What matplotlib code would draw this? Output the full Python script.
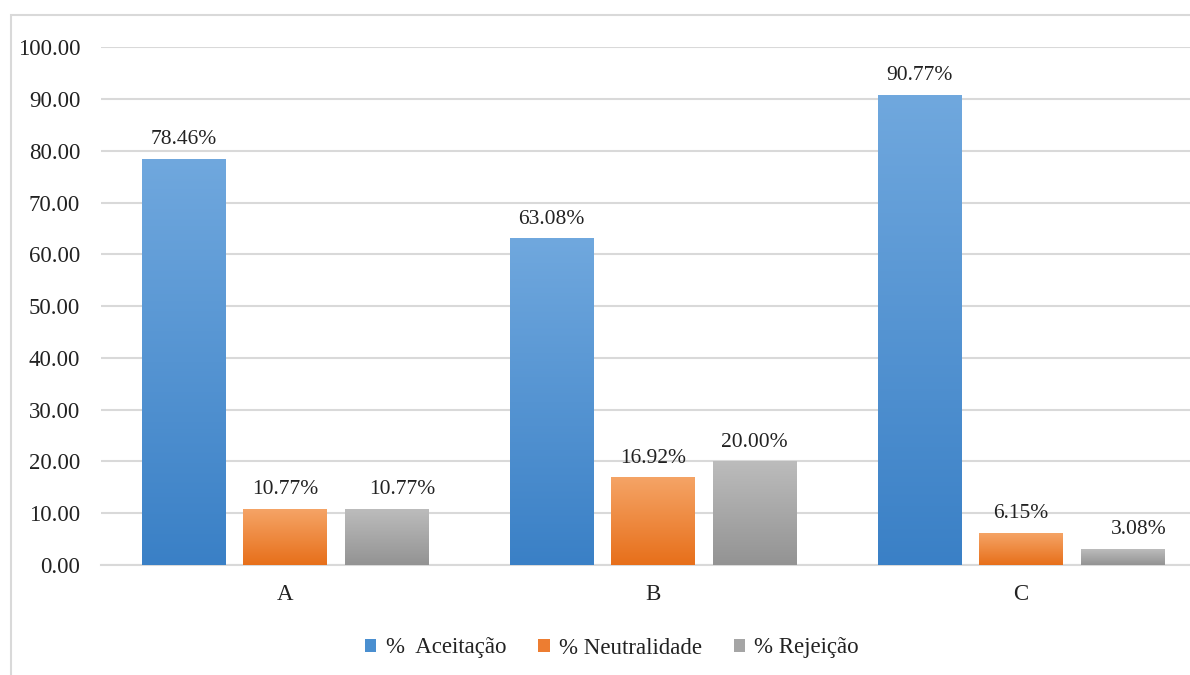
import numpy as np
import matplotlib.pyplot as plt
from matplotlib.colors import LinearSegmentedColormap
from matplotlib.patches import Rectangle

# Dados: percentuais por produto
categorias = ['A', 'B', 'C']
aceitacao = [78.46, 63.08, 90.77]
neutralidade = [10.77, 16.92, 6.15]
rejeicao = [10.77, 20.00, 3.08]
series_nomes = ['%  Aceitação', '% Neutralidade', '% Rejeição']
yticks = [0, 10, 20, 30, 40, 50, 60, 70, 80, 90, 100]

# cores (topo, base) para o degradê de cada série
cores = [('#70a8de', '#3a80c6'), ('#f5a466', '#e76f1a'), ('#bcbcbc', '#939393')]
cor_legenda = ['#4a8fd0', '#ed7d31', '#a5a5a5']

plt.rcParams['font.family'] = ['Liberation Serif', 'DejaVu Serif']

fig = plt.figure(figsize=(11.9, 6.75), dpi=100)
ax = fig.add_axes([0.0849, 0.163, 0.9277, 0.767])

# moldura do gráfico (cortada à direita e embaixo)
fig.patches.append(Rectangle((11 / 1190, -0.05), 1.1, 1 - 15 / 675 + 0.05,
                             transform=fig.transFigure, fill=False,
                             edgecolor='#d9d9d9', lw=1.5, zorder=0))

x = np.arange(len(categorias))
largura = 0.226
desloc = [-0.276, 0.0, 0.276]
# pequenos ajustes horizontais dos rótulos (categoria, série) em pixels
ajuste_rotulo = {(0, 2): 16, (2, 2): 16}

grad = np.linspace(0, 1, 256).reshape(-1, 1)
for s, valores in enumerate([aceitacao, neutralidade, rejeicao]):
    cmap = LinearSegmentedColormap.from_list('g%d' % s, [cores[s][1], cores[s][0]])
    barras = ax.bar(x + desloc[s], valores, largura, color=cor_legenda[s],
                    label=series_nomes[s], zorder=2)
    for i, b in enumerate(barras):
        x0, w, h = b.get_x(), b.get_width(), b.get_height()
        im = ax.imshow(grad, cmap=cmap, origin='lower', aspect='auto',
                       extent=[x0, x0 + w, 0, h], zorder=3)
        im.set_clip_path(b)
        dx = ajuste_rotulo.get((i, s), 0) * 0.72
        ax.annotate('%.2f%%' % valores[i], (x0 + w / 2, h), xytext=(dx, 7),
                    textcoords='offset points', ha='center', va='bottom',
                    fontsize=15.5, color='#222222', zorder=4)

ax.set_xlim(-0.5, 2.5)
ax.set_ylim(0, 100)
ax.set_yticks(yticks)
ax.set_yticklabels(['%.2f' % v for v in yticks])
ax.set_xticks(x)
ax.set_xticklabels(categorias)
ax.tick_params(axis='y', length=0, pad=15, labelsize=16.5, labelcolor='#222222')
ax.tick_params(axis='x', length=0, pad=14, labelsize=16.5, labelcolor='#222222')
ax.grid(axis='y', color='#d9d9d9', lw=1.5, zorder=0)
ax.set_axisbelow(True)
for lado in ['top', 'right', 'left']:
    ax.spines[lado].set_visible(False)
ax.spines['bottom'].set_color('#d9d9d9')
ax.spines['bottom'].set_linewidth(1.5)

fig.legend(loc='center', bbox_to_anchor=(612 / 1190, 1 - 648 / 675), ncol=3,
           frameon=False, fontsize=16.5, handlelength=0.5, handleheight=0.5,
           handletextpad=0.4, columnspacing=1.4, labelcolor='#222222')

fig.savefig('out.png', dpi=100)
